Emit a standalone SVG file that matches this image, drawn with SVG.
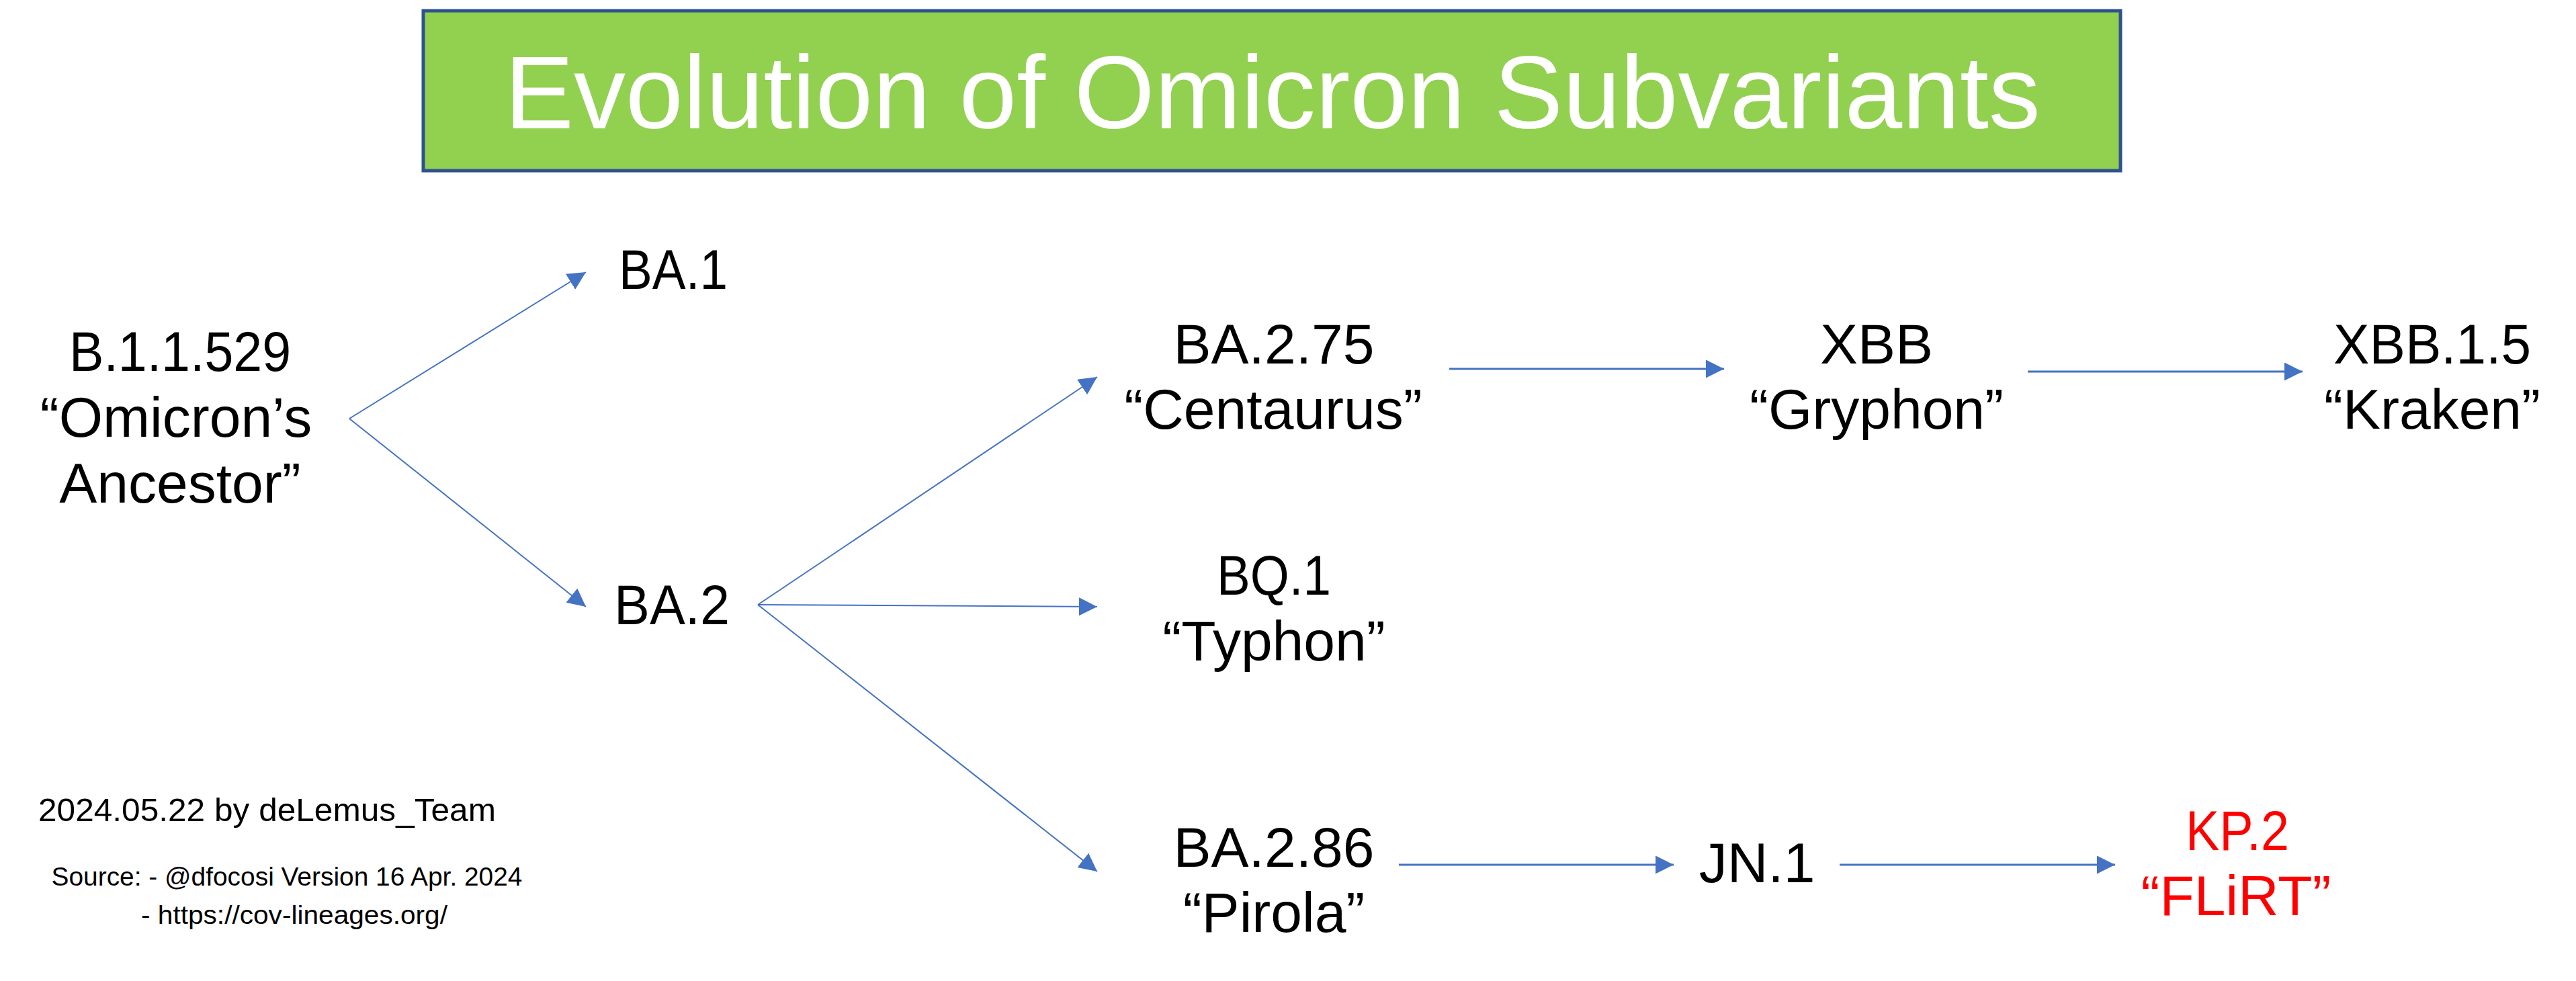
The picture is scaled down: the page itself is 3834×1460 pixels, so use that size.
<svg xmlns="http://www.w3.org/2000/svg" width="3834" height="1460" viewBox="0 0 3834 1460">
<style>
.lbl{font-family:"Liberation Sans",Arial,sans-serif;font-size:84px;fill:#000;text-anchor:middle}
.red{fill:#FF0000}
.title{font-family:"Liberation Sans",Arial,sans-serif;font-size:154px;fill:#fff;text-anchor:middle}
.foot{font-family:"Liberation Sans",Arial,sans-serif;fill:#000}
.conn line{stroke:#4472C4;fill:none}
.d{stroke-width:2}
.h{stroke-width:3}
</style>
<defs>
<marker id="arr" markerUnits="userSpaceOnUse" markerWidth="28" markerHeight="28" refX="27" refY="13.5" orient="auto">
<path d="M0,0 L27,13.5 L0,27 Z" fill="#4472C4"/>
</marker>
</defs>
<rect width="3834" height="1460" fill="#fff"/>
<g id="title">
<rect x="630" y="16" width="2526" height="238" fill="#92D050" stroke="#2F528F" stroke-width="5"/>
<text class="title" x="1894" y="191">Evolution of Omicron Subvariants</text>
</g>
<g class="conn" id="connectors">
<line class="d" x1="520" y1="623" x2="872" y2="405" marker-end="url(#arr)"/>
<line class="d" x1="520" y1="623" x2="872" y2="903" marker-end="url(#arr)"/>
<line class="d" x1="1128" y1="900" x2="1633" y2="561" marker-end="url(#arr)"/>
<line class="d" x1="1128" y1="900" x2="1633" y2="903" marker-end="url(#arr)"/>
<line class="d" x1="1128" y1="900" x2="1633" y2="1297" marker-end="url(#arr)"/>
<line class="h" x1="2157" y1="549" x2="2566" y2="549" marker-end="url(#arr)"/>
<line class="h" x1="3018" y1="553" x2="3427" y2="553" marker-end="url(#arr)"/>
<line class="h" x1="2082" y1="1287" x2="2491" y2="1287" marker-end="url(#arr)"/>
<line class="h" x1="2738" y1="1287" x2="3148" y2="1287" marker-end="url(#arr)"/>
</g>
<g id="n-b11529">
<text class="lbl" x="268" y="552" textLength="330" lengthAdjust="spacingAndGlyphs">B.1.1.529</text>
<text class="lbl" x="262" y="650">“Omicron’s</text>
<text class="lbl" x="268" y="748">Ancestor”</text>
</g>
<g id="n-ba1"><text class="lbl" x="1002" y="430" textLength="162" lengthAdjust="spacingAndGlyphs">BA.1</text></g>
<g id="n-ba2"><text class="lbl" x="1000" y="929" textLength="172" lengthAdjust="spacingAndGlyphs">BA.2</text></g>
<g id="n-ba275">
<text class="lbl" x="1896" y="541">BA.2.75</text>
<text class="lbl" x="1895" y="638">“Centaurus”</text>
</g>
<g id="n-bq1">
<text class="lbl" x="1896" y="885" textLength="170" lengthAdjust="spacingAndGlyphs">BQ.1</text>
<text class="lbl" x="1896" y="983">“Typhon”</text>
</g>
<g id="n-ba286">
<text class="lbl" x="1896" y="1290">BA.2.86</text>
<text class="lbl" x="1896" y="1387">“Pirola”</text>
</g>
<g id="n-xbb">
<text class="lbl" x="2793" y="541">XBB</text>
<text class="lbl" x="2793" y="638">“Gryphon”</text>
</g>
<g id="n-xbb15">
<text class="lbl" x="3620" y="541" textLength="294" lengthAdjust="spacingAndGlyphs">XBB.1.5</text>
<text class="lbl" x="3620" y="638">“Kraken”</text>
</g>
<g id="n-jn1"><text class="lbl" x="2615" y="1313">JN.1</text></g>
<g id="n-kp2">
<text class="lbl red" x="3330" y="1265" textLength="154" lengthAdjust="spacingAndGlyphs">KP.2</text>
<text class="lbl red" x="3328" y="1362">“FLiRT”</text>
</g>
<g id="footer">
<text class="foot" x="57" y="1222" font-size="49" textLength="681" lengthAdjust="spacingAndGlyphs">2024.05.22 by deLemus_Team</text>
<text class="foot" x="427" y="1318" font-size="38" text-anchor="middle" textLength="701" lengthAdjust="spacingAndGlyphs">Source: - @dfocosi Version 16 Apr. 2024</text>
<text class="foot" x="438" y="1375" font-size="38" text-anchor="middle" textLength="456" lengthAdjust="spacingAndGlyphs">- https://cov-lineages.org/</text>
</g>
</svg>
